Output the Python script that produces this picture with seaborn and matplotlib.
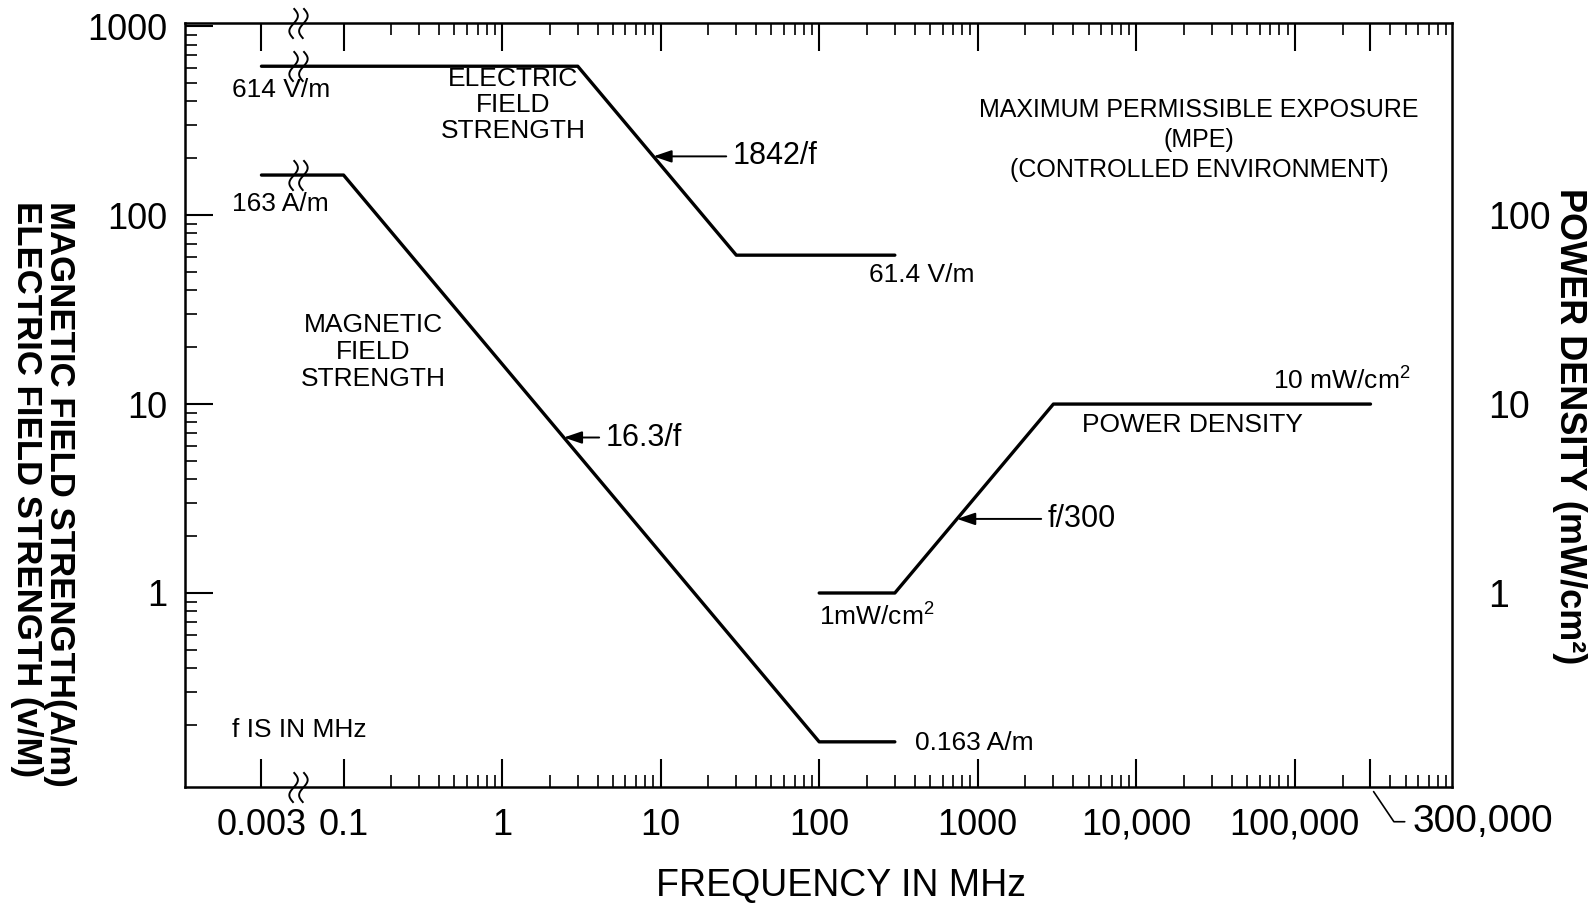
import numpy as np
import matplotlib
matplotlib.use("Agg")
import matplotlib.pyplot as plt
from matplotlib.path import Path
from matplotlib.ticker import FixedLocator, FixedFormatter, NullFormatter
import seaborn as sns

# ---------------- data ----------------
freq_E = [0.003, 3, 30, 300]          # MHz
field_E = [614, 614, 61.4, 61.4]      # V/m
freq_H = [0.003, 0.1, 100, 300]       # MHz
field_H = [163, 163, 0.163, 0.163]    # A/m
freq_S = [100, 300, 3000, 300000]     # MHz
power_S = [1, 1, 10, 10]              # mW/cm^2

xtick_values = [0.003, 0.1, 1, 10, 100, 1000, 10000, 100000, 300000]
xtick_labels = ["0.003", "0.1", "1", "10", "100", "1000", "10,000", "100,000", ""]
ytick_left_values = [1, 10, 100, 1000]
ytick_left_labels = ["1", "10", "100", "1000"]
ytick_right_values = [1, 10, 100]
ytick_right_labels = ["1", "10", "100"]

# ---------------- style ----------------
sns.set_theme(style="ticks")
plt.rcParams["font.family"] = ["Liberation Sans", "DejaVu Sans"]
plt.rcParams["mathtext.fontset"] = "custom"
plt.rcParams["mathtext.rm"] = "Liberation Sans"
plt.rcParams["mathtext.it"] = "Liberation Sans:italic"
plt.rcParams["mathtext.bf"] = "Liberation Sans:bold"
plt.rcParams["text.color"] = "black"
plt.rcParams["axes.labelcolor"] = "black"
plt.rcParams["xtick.color"] = "black"
plt.rcParams["ytick.color"] = "black"

# broken log axis: below 0.1 MHz the decades are compressed
K = 0.34


def fwd(f):
    f = np.asarray(f, dtype=float)
    with np.errstate(divide="ignore", invalid="ignore"):
        lf = np.log10(np.where(f > 0, f, np.nan))
    return np.where(lf >= -1, lf, -1 + (lf + 1) * K)


def inv(u):
    u = np.asarray(u, dtype=float)
    with np.errstate(over="ignore", invalid="ignore"):
        return np.where(u >= -1, 10.0 ** u, 10.0 ** (-1 + (u + 1) / K))


fig = plt.figure(figsize=(15.9, 9.13), dpi=100)
ax = fig.add_axes([185 / 1590, 1 - 787 / 913, (1452 - 185) / 1590, (787 - 23) / 913])
ax.set_xscale("function", functions=(fwd, inv))
ax.set_yscale("log")

LW = 2.4
sns.lineplot(x=freq_E, y=field_E, ax=ax, color="black", linewidth=LW, estimator=None, sort=False)
sns.lineplot(x=freq_H, y=field_H, ax=ax, color="black", linewidth=LW, estimator=None, sort=False)
sns.lineplot(x=freq_S, y=power_S, ax=ax, color="black", linewidth=LW, estimator=None, sort=False)

YLIM = (0.094, 1040)
ax.set_xlim(float(inv(-2.0)), 9.8e5)
ax.set_ylim(*YLIM)
ax.set_xlabel("")
ax.set_ylabel("")

# ticks
minor_x = [m * 10.0 ** d for d in range(-1, 6) for m in range(2, 10)
           if m * 10.0 ** d < 9.8e5 and not (m == 3 and d == 5)]
minor_y = [m * 10.0 ** d for d in range(-1, 3) for m in range(2, 10)]
ax.xaxis.set_major_locator(FixedLocator(xtick_values))
ax.xaxis.set_major_formatter(FixedFormatter(xtick_labels))
ax.xaxis.set_minor_locator(FixedLocator(minor_x))
ax.xaxis.set_minor_formatter(NullFormatter())
ax.yaxis.set_major_locator(FixedLocator(ytick_left_values))
ax.yaxis.set_major_formatter(FixedFormatter(ytick_left_labels))
ax.yaxis.set_minor_locator(FixedLocator(minor_y))
ax.yaxis.set_minor_formatter(NullFormatter())

ax.tick_params(axis="both", which="major", direction="in", length=20, width=1.5,
               top=True, right=True, labelsize=26, colors="black")
ax.tick_params(axis="both", which="minor", direction="in", length=8.5, width=1.2,
               top=True, right=True)
ax.tick_params(axis="x", which="major", pad=15)
ax.tick_params(axis="y", which="major", pad=13)
for s in ax.spines.values():
    s.set_color("black")
    s.set_linewidth(1.8)
    s.set_visible(True)

# right-hand labels (power density)
ax2 = ax.twinx()
ax2.set_yscale("log")
ax2.set_ylim(*YLIM)
ax2.yaxis.set_major_locator(FixedLocator(ytick_right_values))
ax2.yaxis.set_major_formatter(FixedFormatter(ytick_right_labels))
ax2.yaxis.set_minor_locator(FixedLocator([]))
ax2.tick_params(axis="y", which="both", length=0, pad=26, labelsize=27, colors="black")
for s in ax2.spines.values():
    s.set_visible(False)

# axis break marks
t = np.linspace(-1, 1, 40)
wave = 0.28 * np.sin(t * np.pi)
verts, codes = [], []
for dx in (-0.32, 0.32):
    verts += list(zip(dx + wave, t))
    codes += [Path.MOVETO] + [Path.LINETO] * (len(t) - 1)
break_path = Path(verts, codes)
f_break = 0.0143
ax.plot([f_break] * 4, [YLIM[1], field_E[0], field_H[0], YLIM[0]], ls="none",
        marker=break_path, ms=22, mfc="none", mec="black", mew=1.4, clip_on=False, zorder=5)

# annotations
TXT = 19
FTXT = 22
arrow_kw = dict(arrowstyle="-|>,head_length=0.5,head_width=0.17", color="black", lw=1.4,
                mutation_scale=22, shrinkA=2, shrinkB=0, relpos=(0, 0.5))
ax.annotate("1842/f", xy=(9, 1842 / 9), xytext=(28.3, 1842 / 9), ha="left", va="center",
            fontsize=FTXT, arrowprops=arrow_kw)
ax.annotate("16.3/f", xy=(2.45, 16.3 / 2.45), xytext=(4.47, 16.3 / 2.45), ha="left", va="center",
            fontsize=FTXT, arrowprops=arrow_kw)
ax.annotate("f/300", xy=(740, 740 / 300), xytext=(2744, 740 / 300), ha="left", va="center",
            fontsize=FTXT, arrowprops=arrow_kw)

T = ax.transAxes
ax.text(0.0371, 0.912, "614 V/m", transform=T, ha="left", va="center", fontsize=TXT)
ax.text(0.0371, 0.763, "163 A/m", transform=T, ha="left", va="center", fontsize=TXT)
ax.text(0.2589, 0.8927, "ELECTRIC\nFIELD\nSTRENGTH", transform=T, ha="center", va="center",
        multialignment="center", fontsize=TXT, linespacing=1.12)
ax.text(0.8005, 0.8469, "MAXIMUM PERMISSIBLE EXPOSURE\n(MPE)\n(CONTROLLED ENVIRONMENT)",
        transform=T, ha="center", va="center", multialignment="center", fontsize=18,
        linespacing=1.33)
ax.text(0.5399, 0.6702, "61.4 V/m", transform=T, ha="left", va="center", fontsize=TXT)
ax.text(0.1484, 0.5694, "MAGNETIC\nFIELD\nSTRENGTH", transform=T, ha="center", va="center",
        multialignment="center", fontsize=TXT, linespacing=1.15)
ax.text(0.9669, 0.5196, r"10 mW/cm$^{2}$", transform=T, ha="right", va="baseline", fontsize=TXT)
ax.text(0.795, 0.4738, "POWER DENSITY", transform=T, ha="center", va="center", fontsize=TXT)
ax.text(0.5004, 0.2107, r"1mW/cm$^{2}$", transform=T, ha="left", va="baseline", fontsize=TXT)
ax.text(0.0371, 0.0746, "f IS IN MHz", transform=T, ha="left", va="center", fontsize=TXT)
ax.text(0.5762, 0.0576, "0.163 A/m", transform=T, ha="left", va="center", fontsize=TXT)

# 300,000 label with leader line
ax.annotate("300,000", xy=(300000, 0), xycoords=("data", "axes fraction"),
            xytext=(30, -25), textcoords="offset points", ha="left", va="center",
            fontsize=28, annotation_clip=False,
            arrowprops=dict(arrowstyle="-", color="black", lw=1.2, shrinkA=3, shrinkB=4,
                            relpos=(0, 0.5),
                            connectionstyle="angle,angleA=0,angleB=-56,rad=0"))

# axis titles
fig.text(0.529, 0.030, "FREQUENCY IN MHz", ha="center", va="center", fontsize=27)
fig.text(0.027, 0.459, "MAGNETIC FIELD STRENGTH(A/m)\nELECTRIC FIELD STRENGTH (v/M)",
         rotation=-90, ha="center", va="center", multialignment="left",
         fontsize=25, fontweight="bold", linespacing=1.0)
fig.text(0.9874, 0.5334, "POWER DENSITY (mW/cm²)", rotation=-90, ha="center", va="center",
         fontsize=26, fontweight="bold")

fig.savefig("out.png", dpi=100, facecolor="white")
